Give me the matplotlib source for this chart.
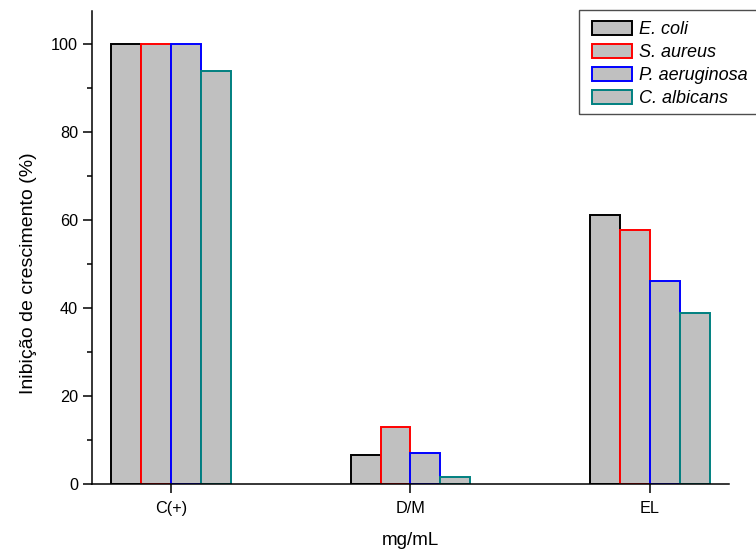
import numpy as np
import matplotlib
matplotlib.use("Agg")
import matplotlib.pyplot as plt
from matplotlib.patches import Patch, Rectangle

plt.rcParams["font.family"] = ["Liberation Sans", "DejaVu Sans"]

# data
groups = ["C(+)", "D/M", "EL"]
species = ["E. coli", "S. aureus", "P. aeruginosa", "C. albicans"]
ecoli = [100.0, 6.6, 61.1]
saureus = [100.0, 13.0, 57.7]
paeruginosa = [100.0, 7.1, 46.2]
calbicans = [93.9, 1.7, 38.8]
edge_colors = ["black", "#ff0000", "#0000ff", "#008080"]

series = [ecoli, saureus, paeruginosa, calbicans]
fill = "#c0c0c0"
width = 0.125

fig = plt.figure(figsize=(7.56, 5.56), dpi=100)
ax = fig.add_axes([92 / 756, 1 - 484 / 556, (729 - 92) / 756, (484 - 11) / 556])

x = np.arange(len(groups))
offsets = (np.arange(len(series)) - 2) * width
for vals, off, ec in zip(series, offsets, edge_colors):
    ax.bar(x + off, vals, width=width, align="edge", color=fill,
           edgecolor=ec, linewidth=1.4)

ax.set_xlim(-0.33, 2.33)
ax.set_ylim(0, 107.5)
ax.set_xticks(x)
ax.set_xticklabels(groups)
ax.set_yticks(np.arange(0, 101, 20))
ax.set_yticks(np.arange(10, 100, 20), minor=True)

for side in ["top", "right"]:
    ax.spines[side].set_visible(False)
for side in ["left", "bottom"]:
    ax.spines[side].set_linewidth(1.1)
ax.tick_params(which="major", direction="out", length=6.5, width=1.1,
               labelsize=11.7, pad=3.5)
ax.tick_params(axis="x", which="major", pad=5.5)
ax.tick_params(which="minor", direction="out", length=3.5, width=1.1)
ax.tick_params(axis="x", which="minor", bottom=False)

ax.set_ylabel("Inibição de crescimento (%)", fontsize=14)
ax.yaxis.set_label_coords(-0.087, 0.445)
ax.set_xlabel("mg/mL", fontsize=13.5, labelpad=12)

# legend (box runs past the right edge of the figure, as in the original)
handles = [Patch(facecolor=fill, edgecolor=ec, linewidth=1.4) for ec in edge_colors]
leg = fig.legend(handles, species, loc="upper left",
                 bbox_to_anchor=(592 / 756, 1 - 21 / 556), frameon=False,
                 prop={"style": "italic", "size": 13}, handlelength=2.2,
                 handleheight=0.85, handletextpad=0.4, labelspacing=0.3,
                 borderaxespad=0, borderpad=0)
fig.add_artist(Rectangle((579 / 756, 1 - 114 / 556), 200 / 756, 104 / 556,
                         transform=fig.transFigure, fill=False,
                         edgecolor="0.3", linewidth=1.0, clip_on=False))

fig.savefig("out.png", dpi=100)
